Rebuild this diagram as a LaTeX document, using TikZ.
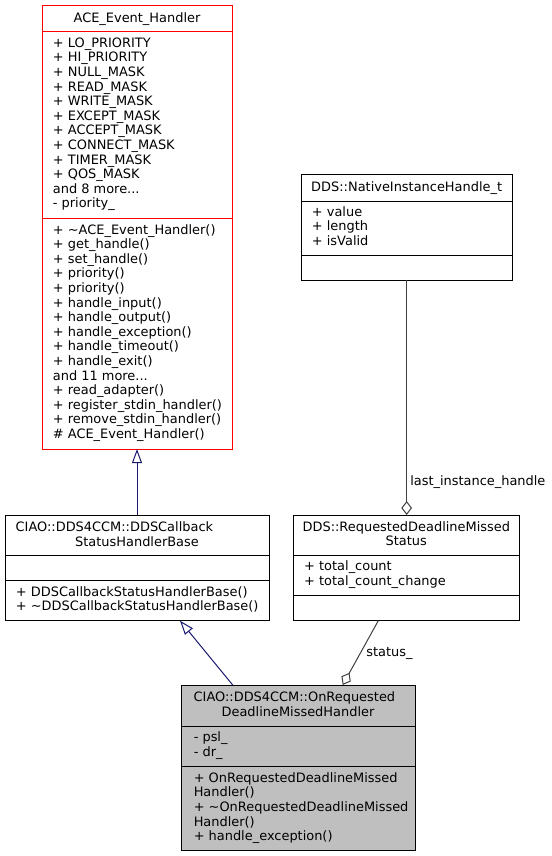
\documentclass[tikz,border=0pt]{standalone}
\usepackage{fontspec}
\setmainfont{DejaVu Sans}
\usetikzlibrary{arrows.meta,calc}
\definecolor{inhcol}{HTML}{191970}
\definecolor{aggcol}{HTML}{404040}
\definecolor{boxfill}{HTML}{BFBFBF}
\definecolor{acered}{HTML}{FF0000}
\newcommand\umlfont{\fontsize{9.7pt}{10.95pt}\selectfont}
\begin{document}
\begin{tikzpicture}[x=0.75pt,y=-0.75pt,
  cell/.style={draw=black, line width=0.75pt, rectangle, anchor=north west,
    inner sep=0pt, outer sep=0pt},
  txt/.style={font=\umlfont, inner sep=0pt, align=left, anchor=west,
    execute at begin node=\strut, execute at end node=\strut},
  ttl/.style={font=\umlfont, inner sep=0pt, align=center, anchor=center, yshift=-0.6pt,
    execute at begin node=\strut, execute at end node=\strut},
  inh/.style={draw=inhcol, line width=0.75pt, -{Triangle[open, length=10.5pt, width=7.5pt]}},
  agg/.style={draw=aggcol, line width=0.75pt, -{Diamond[open, length=10.5pt, width=8pt]}},
  lbl/.style={font=\umlfont, inner sep=0pt, anchor=west}]
\fill[white] (0,0) rectangle (551,856);
\useasboundingbox (0,0) rectangle (551,856);

% ACE_Event_Handler
\node[cell, draw=acered, minimum width=142.5pt, minimum height=19.5pt] (ace-t) at (42,6) {};
\node[cell, draw=acered, minimum width=142.5pt, minimum height=139.5pt] (ace-a) at (ace-t.south west) {};
\node[cell, draw=acered, minimum width=142.5pt, minimum height=173.25pt] (ace-m) at (ace-a.south west) {};
\node[ttl] (ace-tt) at (ace-t.center) {ACE\_Event\_Handler};
\node[txt] (ace-at) at ($(ace-a.west)+(10.67,0)$)
 {+ LO\_PRIORITY\\+ HI\_PRIORITY\\+ NULL\_MASK\\+ READ\_MASK\\+ WRITE\_MASK\\+ EXCEPT\_MASK\\+ ACCEPT\_MASK\\+ CONNECT\_MASK\\+ TIMER\_MASK\\+ QOS\_MASK\\and 8 more...\\- priority\_};
\node[txt] (ace-mt) at ($(ace-m.west)+(10.67,0)$)
 {+ \textasciitilde ACE\_Event\_Handler()\\+ get\_handle()\\+ set\_handle()\\+ priority()\\+ priority()\\+ handle\_input()\\+ handle\_output()\\+ handle\_exception()\\+ handle\_timeout()\\+ handle\_exit()\\and 11 more...\\+ read\_adapter()\\+ register\_stdin\_handler()\\+ remove\_stdin\_handler()\\\# ACE\_Event\_Handler()};

% DDSCallbackStatusHandlerBase
\node[cell, minimum width=198pt, minimum height=30pt] (ddscb-t) at (5,515) {};
\node[cell, minimum width=198pt, minimum height=19.3pt] (ddscb-a) at (ddscb-t.south west) {};
\node[cell, minimum width=198pt, minimum height=30pt] (ddscb-m) at (ddscb-a.south west) {};
\node[ttl, align=left, text width=182pt] (ddscb-tt) at (ddscb-t.center)
 {CIAO::DDS4CCM::DDSCallback\\\hspace*{\fill}StatusHandlerBase\hspace*{\fill}};
\node[txt] (ddscb-mt) at ($(ddscb-m.west)+(10.67,0)$)
 {+ DDSCallbackStatusHandlerBase()\\+ \textasciitilde DDSCallbackStatusHandlerBase()};

% NativeInstanceHandle_t
\node[cell, minimum width=158.5pt, minimum height=20pt] (nih-t) at (301,174.7) {};
\node[cell, minimum width=158.5pt, minimum height=40.3pt] (nih-a) at (nih-t.south west) {};
\node[cell, minimum width=158.5pt, minimum height=18.75pt] (nih-m) at (nih-a.south west) {};
\node[ttl] (nih-tt) at (nih-t.center) {DDS::NativeInstanceHandle\_t};
\node[txt] (nih-at) at ($(nih-a.west)+(10.67,0)$) {+ value\\+ length\\+ isValid};

% RequestedDeadlineMissedStatus
\node[cell, minimum width=169.5pt, minimum height=30pt] (rdms-t) at (293.3,515) {};
\node[cell, minimum width=169.5pt, minimum height=30pt] (rdms-a) at (rdms-t.south west) {};
\node[cell, minimum width=169.5pt, minimum height=19.3pt] (rdms-m) at (rdms-a.south west) {};
\node[ttl] (rdms-tt) at (rdms-t.center) {DDS::RequestedDeadlineMissed\\Status};
\node[txt] (rdms-at) at ($(rdms-a.west)+(10.67,0)$) {+ total\_count\\+ total\_count\_change};

% OnRequestedDeadlineMissedHandler
\node[cell, fill=boxfill, minimum width=175.5pt, minimum height=30.75pt] (onreq-t) at (181,685) {};
\node[cell, fill=boxfill, minimum width=175.5pt, minimum height=30.5pt] (onreq-a) at (onreq-t.south west) {};
\node[cell, fill=boxfill, minimum width=175.5pt, minimum height=63.2pt] (onreq-m) at (onreq-a.south west) {};
\node[ttl, align=left, text width=159.5pt] (onreq-tt) at (onreq-t.center)
 {\hspace*{1.5pt}CIAO::DDS4CCM::OnRequested\\\hspace*{\fill}DeadlineMissedHandler\hspace*{\fill}};
\node[txt] (onreq-at) at ($(onreq-a.west)+(12.5,0)$) {- psl\_\\- dr\_};
\node[txt] (onreq-mt) at ($(onreq-m.west)+(12.5,0)$)
 {+ OnRequestedDeadlineMissed\\Handler()\\+ \textasciitilde OnRequestedDeadlineMissed\\Handler()\\+ handle\_exception()};

% connectors
\draw[inh] (ddscb-t.north) -- (ace-m.south);
\draw[inh] ($(onreq-t.north west)!0.221!(onreq-t.north east)$) -- ($(ddscb-m.south west)!0.663!(ddscb-m.south east)$);
\draw[agg] (nih-m.south) -- (nih-m.south |- rdms-t.north);
\draw[agg] ($(rdms-m.south west)!0.376!(rdms-m.south east)$) -- ($(onreq-t.north west)!0.691!(onreq-t.north east)$);

% labels
\node[lbl] (lbl-lih) at (410,481.7) {last\_instance\_handle};
\node[lbl] (lbl-st) at (366,653) {status\_};
\end{tikzpicture}
\end{document}
